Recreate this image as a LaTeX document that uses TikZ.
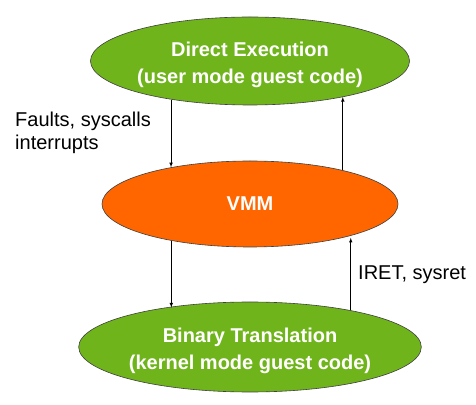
\documentclass[tikz,border=0pt]{standalone}
\usepackage{fontspec}
\setmainfont{Liberation Sans}
\usepackage{tikz}
\usetikzlibrary{shapes.geometric}
\definecolor{leafgreen}{RGB}{112,180,28}
\definecolor{vmmorange}{RGB}{255,102,0}
\newcommand{\twolines}[2]{\raisebox{-4pt}[\height][\depth]{\begin{tabular}{@{}c@{}}#1\\#2\end{tabular}}}

\begin{document}
\begin{tikzpicture}[x=1pt,y=1pt]
    \tikzstyle{mode}=[ellipse, draw=black!75, line width=0.6pt, minimum width=296pt, minimum height=88pt, inner sep=0pt, text=white, font=\fontsize{20}{27}\selectfont\bfseries]
    \tikzstyle{note}=[anchor=west, inner sep=0pt, align=left, font=\fontsize{20}{23}\selectfont]
    \tikzstyle{flow}=[->, line width=0.6pt, >=latex]

    \useasboundingbox (0,0) rectangle (476,404);

    \node[mode, fill=leafgreen] (direct) at (250,343) {\twolines{Direct Execution}{(user mode guest code)}};
    \node[mode, fill=vmmorange, minimum height=86pt] (vmm) at (250,200) {VMM};
    \node[mode, fill=leafgreen, minimum height=90pt] (binary) at (250,57) {\twolines{Binary Translation}{(kernel mode guest code)}};

    \node[note] (faults) at (15,271) {Faults, syscalls\\interrupts};
    \node[note] (iret) at (358,129) {IRET, sysret};

    \draw[flow] (direct.206) -- (direct.206 |- vmm.155);
    \draw[flow] (vmm.20) -- (vmm.20 |- direct.339);
    \draw[flow] (vmm.205) -- (vmm.205 |- binary.155);
    \draw[flow] (binary.20) -- (binary.20 |- vmm.340);
\end{tikzpicture}
\end{document}
